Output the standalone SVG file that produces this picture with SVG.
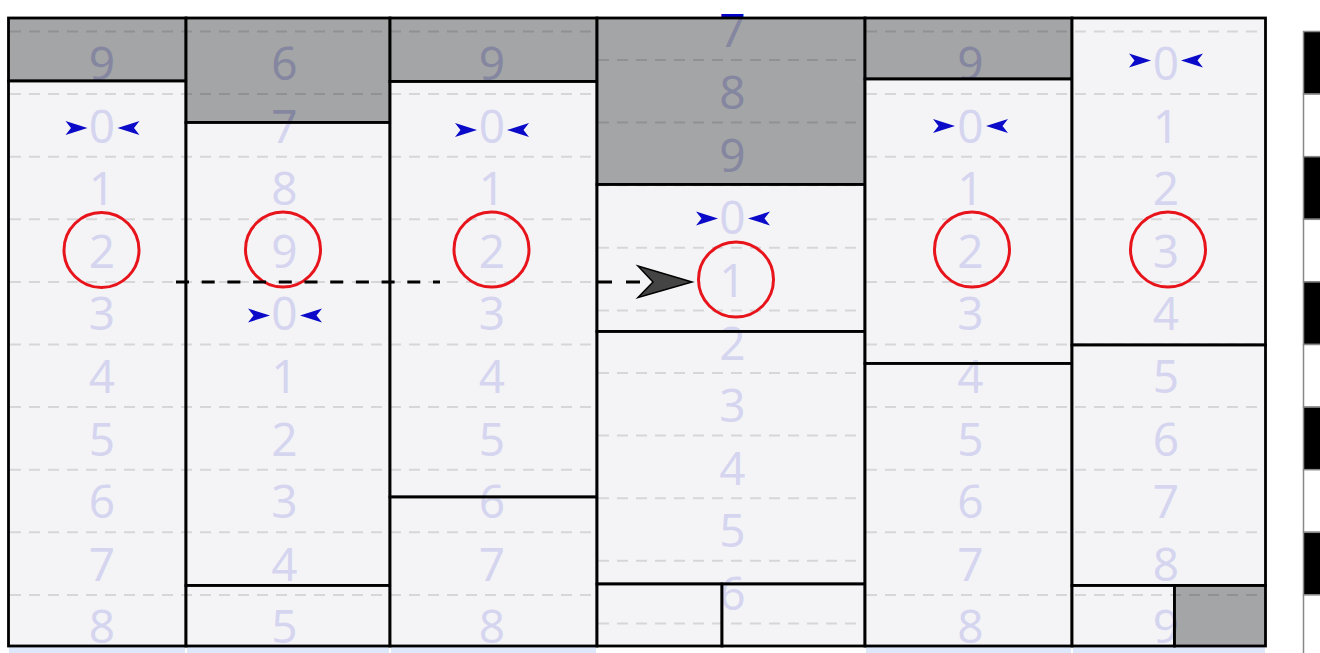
<svg xmlns="http://www.w3.org/2000/svg" xmlns:xlink="http://www.w3.org/1999/xlink" width="1320" height="653" viewBox="0 0 1320 653">
<style>
.d{font-family:"Noto Sans","Open Sans","DejaVu Sans",sans-serif;font-size:46px;fill:#0000c8;text-anchor:middle}
.w{fill:#f2f3f5;fill-opacity:0.88;stroke:#000;stroke-width:2.8}
.g{fill:#97989a;fill-opacity:0.88;stroke:#000;stroke-width:2.8}
.gl{stroke:#000;stroke-opacity:0.12;stroke-width:2;stroke-dasharray:11 8;fill:none}
.rc{fill:none;stroke:#e8141c;stroke-width:3}
.mk{fill:#0a0ac8}
.lb{fill:#dde8fa}
.kb{stroke:#888;stroke-width:1.5}
</style>
<defs>
<path id="mk" d="M0,0 L-22,-7 L-16.5,0 L-22,7 Z"/>
</defs>
<rect width="1320" height="653" fill="#fff"/>

<!-- bottom strip of next row -->
<g id="strip">
<rect class="lb" x="9" y="647" width="176" height="10"/>
<rect class="lb" x="187" y="647" width="202" height="10"/>
<rect class="lb" x="391" y="647" width="205" height="10"/>
<rect class="lb" x="866" y="647" width="205" height="10"/>
<rect class="lb" x="1073" y="647" width="192" height="10"/>
</g>

<!-- digits (under translucent boxes) -->
<g id="digits">
<g id="col1-text">
<text class="d" x="102" y="80">9</text><text class="d" x="102" y="142.6">0</text><text class="d" x="102" y="205.2">1</text><text class="d" x="102" y="267.8">2</text><text class="d" x="102" y="330.4">3</text><text class="d" x="102" y="393">4</text><text class="d" x="102" y="455.6">5</text><text class="d" x="102" y="518.2">6</text><text class="d" x="102" y="580.8">7</text><text class="d" x="102" y="643.4">8</text>
</g>
<g id="col2-text">
<text class="d" x="284.5" y="80">6</text><text class="d" x="284.5" y="142.6">7</text><text class="d" x="284.5" y="205.2">8</text><text class="d" x="284.5" y="267.8">9</text><text class="d" x="284.5" y="330.4">0</text><text class="d" x="284.5" y="393">1</text><text class="d" x="284.5" y="455.6">2</text><text class="d" x="284.5" y="518.2">3</text><text class="d" x="284.5" y="580.8">4</text><text class="d" x="284.5" y="643.4">5</text>
</g>
<g id="col3-text">
<text class="d" x="492" y="80">9</text><text class="d" x="492" y="142.6">0</text><text class="d" x="492" y="205.2">1</text><text class="d" x="492" y="267.8">2</text><text class="d" x="492" y="330.4">3</text><text class="d" x="492" y="393">4</text><text class="d" x="492" y="455.6">5</text><text class="d" x="492" y="518.2">6</text><text class="d" x="492" y="580.8">7</text><text class="d" x="492" y="643.4">8</text>
</g>
<g id="col4-text">
<text class="d" x="732.5" y="46.5">7</text><text class="d" x="732.5" y="109.1">8</text><text class="d" x="732.5" y="171.7">9</text><text class="d" x="732.5" y="234.3">0</text><text class="d" x="732.5" y="296.9">1</text><text class="d" x="732.5" y="359.5">2</text><text class="d" x="732.5" y="422.1">3</text><text class="d" x="732.5" y="484.7">4</text><text class="d" x="732.5" y="547.3">5</text><text class="d" x="732.5" y="609.9">6</text>
</g>
<g id="col5-text">
<text class="d" x="970.5" y="80">9</text><text class="d" x="970.5" y="142.6">0</text><text class="d" x="970.5" y="205.2">1</text><text class="d" x="970.5" y="267.8">2</text><text class="d" x="970.5" y="330.4">3</text><text class="d" x="970.5" y="393">4</text><text class="d" x="970.5" y="455.6">5</text><text class="d" x="970.5" y="518.2">6</text><text class="d" x="970.5" y="580.8">7</text><text class="d" x="970.5" y="643.4">8</text>
</g>
<g id="col6-text">
<text class="d" x="1166" y="80">0</text><text class="d" x="1166" y="142.6">1</text><text class="d" x="1166" y="205.2">2</text><text class="d" x="1166" y="267.8">3</text><text class="d" x="1166" y="330.4">4</text><text class="d" x="1166" y="393">5</text><text class="d" x="1166" y="455.6">6</text><text class="d" x="1166" y="518.2">7</text><text class="d" x="1166" y="580.8">8</text><text class="d" x="1166" y="643.4">9</text>
</g>
</g>

<!-- column boxes -->
<g id="col1">
<rect class="g" x="8.5" y="18" width="177.5" height="63"/>
<rect class="w" x="8.5" y="81" width="177.5" height="565"/>
</g>
<g id="col2">
<rect class="g" x="186" y="18" width="204" height="104.5"/>
<rect class="w" x="186" y="122.5" width="204" height="463"/>
<rect class="w" x="186" y="585.5" width="204" height="60.5"/>
</g>
<g id="col3">
<rect class="g" x="390" y="18" width="207" height="63.5"/>
<rect class="w" x="390" y="81.5" width="207" height="415.5"/>
<rect class="w" x="390" y="497" width="207" height="149"/>
</g>
<g id="col4">
<rect class="g" x="597" y="18" width="268" height="166.5"/>
<rect class="w" x="597" y="184.5" width="268" height="147"/>
<rect class="w" x="597" y="331.5" width="268" height="252.5"/>
<rect class="w" x="597" y="584" width="125" height="62"/>
<rect class="w" x="722" y="584" width="143" height="62"/>
</g>
<g id="col5">
<rect class="g" x="865" y="18" width="207" height="61"/>
<rect class="w" x="865" y="79" width="207" height="284.5"/>
<rect class="w" x="865" y="363.5" width="207" height="282.5"/>
</g>
<g id="col6">
<rect class="w" x="1072" y="18" width="193.5" height="327"/>
<rect class="w" x="1072" y="345" width="193.5" height="240.5"/>
<rect class="w" x="1072" y="585.5" width="102.5" height="60.5"/>
<rect class="g" x="1174.5" y="585.5" width="91" height="60.5"/>
</g>

<!-- grid lines -->
<g id="gridlines">
<path class="gl" d="M10,31.5H596M10,94.1H596M10,156.7H596M10,219.3H596M10,281.9H596M10,344.5H596M10,407.1H596M10,469.7H596M10,532.3H596M10,594.9H596"/>
<path class="gl" d="M866,31.5H1265M866,94.1H1265M866,156.7H1265M866,219.3H1265M866,281.9H1265M866,344.5H1265M866,407.1H1265M866,469.7H1265M866,532.3H1265M866,594.9H1265"/>
<path class="gl" d="M598,60H864M598,122.6H864M598,185.2H864M598,247.8H864M598,310.4H864M598,373H864M598,435.6H864M598,498.2H864M598,560.8H864M598,623.4H864"/>
</g>

<!-- side blocks -->
<g id="sidebar">
<rect class="kb" x="1303.5" y="31.5" width="30" height="62.6" fill="#000"/>
<rect class="kb" x="1303.5" y="94.1" width="30" height="62.6" fill="#fff"/>
<rect class="kb" x="1303.5" y="156.7" width="30" height="62.6" fill="#000"/>
<rect class="kb" x="1303.5" y="219.3" width="30" height="62.6" fill="#fff"/>
<rect class="kb" x="1303.5" y="281.9" width="30" height="62.6" fill="#000"/>
<rect class="kb" x="1303.5" y="344.5" width="30" height="62.6" fill="#fff"/>
<rect class="kb" x="1303.5" y="407.1" width="30" height="62.6" fill="#000"/>
<rect class="kb" x="1303.5" y="469.7" width="30" height="62.6" fill="#fff"/>
<rect class="kb" x="1303.5" y="532.3" width="30" height="62.6" fill="#000"/>
<rect class="kb" x="1303.5" y="594.9" width="30" height="62.6" fill="#fff"/>
</g>

<!-- selection circles -->
<g id="selections">
<circle class="rc" cx="101.5" cy="250" r="37.5"/>
<circle class="rc" cx="283" cy="249.5" r="37.5"/>
<circle class="rc" cx="491.5" cy="249.5" r="37.5"/>
<circle class="rc" cx="736" cy="279.5" r="37.5"/>
<circle class="rc" cx="972" cy="249.5" r="37.5"/>
<circle class="rc" cx="1168" cy="249.5" r="37.5"/>
</g>

<!-- zero markers -->
<g id="markers" class="mk">
<use xlink:href="#mk" transform="translate(87.5,128)"/>
<use xlink:href="#mk" transform="translate(117.5,128) scale(-1,1)"/>
<use xlink:href="#mk" transform="translate(270,315.5)"/>
<use xlink:href="#mk" transform="translate(300,315.5) scale(-1,1)"/>
<use xlink:href="#mk" transform="translate(477,130)"/>
<use xlink:href="#mk" transform="translate(507,130) scale(-1,1)"/>
<use xlink:href="#mk" transform="translate(718,218.5)"/>
<use xlink:href="#mk" transform="translate(748,218.5) scale(-1,1)"/>
<use xlink:href="#mk" transform="translate(955,126)"/>
<use xlink:href="#mk" transform="translate(986,126) scale(-1,1)"/>
<use xlink:href="#mk" transform="translate(1151,60.5)"/>
<use xlink:href="#mk" transform="translate(1181,60.5) scale(-1,1)"/>
</g>

<!-- connector -->
<g id="connectors">
<path d="M176,282H440" fill="none" stroke="#000" stroke-width="3" stroke-dasharray="13 12.7"/>
<path d="M598,282H645" fill="none" stroke="#000" stroke-width="3" stroke-dasharray="14 14"/>
<path d="M692,282 L638,266 L653,282 L638,297.5 Z" fill="#444" stroke="#000" stroke-width="1.5" stroke-linejoin="miter"/>
</g>
</svg>
